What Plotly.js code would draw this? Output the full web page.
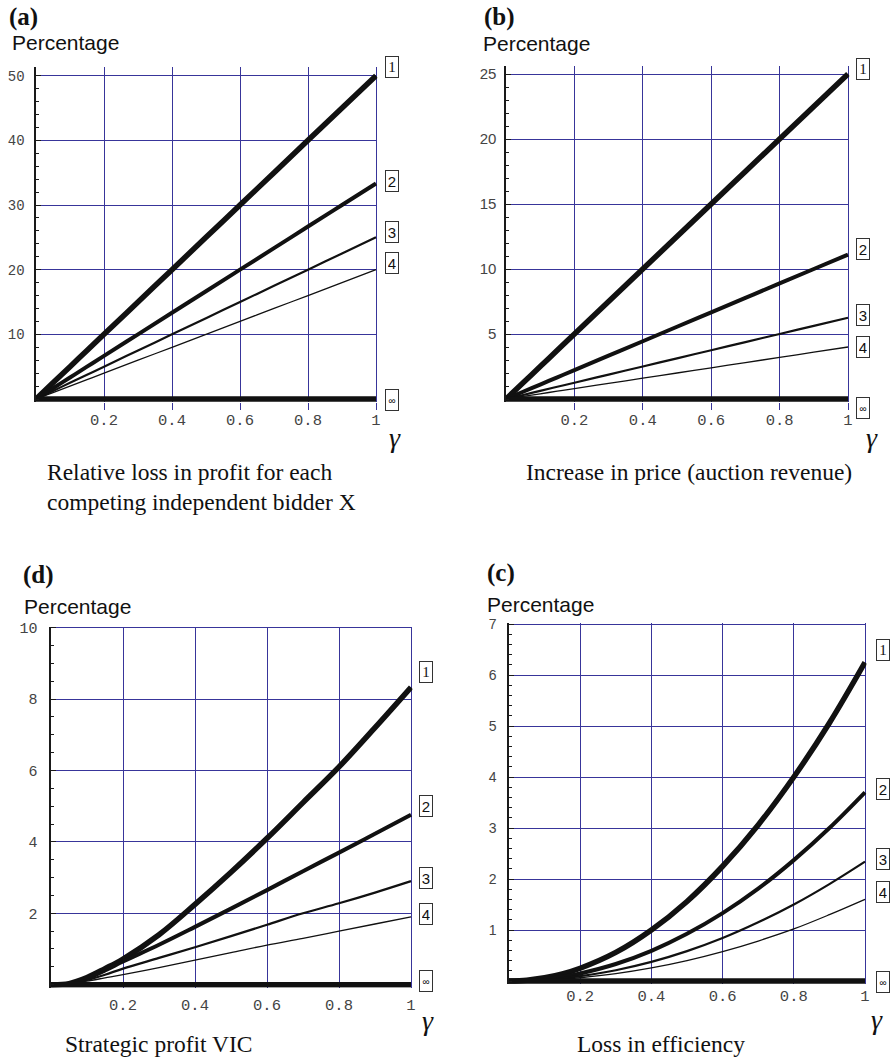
<!DOCTYPE html>
<html>
<head>
<meta charset="utf-8">
<script src="https://cdn.plot.ly/plotly-3.0.1.min.js"></script>
<style>
html,body{margin:0;padding:0;background:#fff;}
#chart{width:893px;height:1059px;}
</style>
</head>
<body>
<div id="chart"></div>
<script>
// ---------- DATA ----------
const gamma = [0, 0.05, 0.1, 0.15, 0.2, 0.3, 0.4, 0.5, 0.6, 0.7, 0.8, 0.9, 1];
const seriesLabels = ['1', '2', '3', '4', '\u221e'];
const xTickVals = [0.2, 0.4, 0.6, 0.8, 1];
const xTickText = ['0.2', '0.4', '0.6', '0.8', '1'];

// (a) Relative loss in profit for each competing independent bidder X
const lossProfit1 = [0, 2.5, 5, 7.5, 10, 15, 20, 25, 30, 35, 40, 45, 50];
const lossProfit2 = [0, 1.67, 3.33, 5, 6.67, 10, 13.33, 16.67, 20, 23.33, 26.67, 30, 33.33];
const lossProfit3 = [0, 1.25, 2.5, 3.75, 5, 7.5, 10, 12.5, 15, 17.5, 20, 22.5, 25];
const lossProfit4 = [0, 1, 2, 3, 4, 6, 8, 10, 12, 14, 16, 18, 20];
const lossProfitInf = [0, 0, 0, 0, 0, 0, 0, 0, 0, 0, 0, 0, 0];
const yTicksA = [10, 20, 30, 40, 50];

// (b) Increase in price (auction revenue)
const price1 = [0, 1.25, 2.5, 3.75, 5, 7.5, 10, 12.5, 15, 17.5, 20, 22.5, 25];
const price2 = [0, 0.56, 1.11, 1.67, 2.22, 3.33, 4.44, 5.56, 6.67, 7.78, 8.89, 10, 11.11];
const price3 = [0, 0.31, 0.63, 0.94, 1.25, 1.88, 2.5, 3.13, 3.75, 4.38, 5, 5.63, 6.25];
const price4 = [0, 0.2, 0.4, 0.6, 0.8, 1.2, 1.6, 2, 2.4, 2.8, 3.2, 3.6, 4];
const priceInf = [0, 0, 0, 0, 0, 0, 0, 0, 0, 0, 0, 0, 0];
const yTicksB = [5, 10, 15, 20, 25];

// (d) Strategic profit VIC
const vic1 = [0, 0.03, 0.2, 0.45, 0.72, 1.4, 2.25, 3.15, 4.1, 5.1, 6.1, 7.2, 8.33];
const vic2 = [0, 0.03, 0.18, 0.4, 0.65, 1.12, 1.62, 2.13, 2.65, 3.18, 3.7, 4.23, 4.76];
const vic3 = [0, 0.02, 0.13, 0.28, 0.45, 0.75, 1.05, 1.36, 1.68, 2.0, 2.28, 2.58, 2.9];
const vic4 = [0, 0.02, 0.1, 0.19, 0.28, 0.48, 0.69, 0.9, 1.11, 1.3, 1.5, 1.7, 1.9];
const vicInf = [0, 0, 0, 0, 0, 0, 0, 0, 0, 0, 0, 0, 0];
const yTicksD = [2, 4, 6, 8, 10];

// (c) Loss in efficiency
const eff1 = [0, 0.016, 0.063, 0.14, 0.25, 0.56, 1.0, 1.56, 2.25, 3.06, 4.0, 5.06, 6.25];
const eff2 = [0, 0.009, 0.037, 0.083, 0.148, 0.333, 0.592, 0.925, 1.33, 1.81, 2.37, 3.0, 3.7];
const eff3 = [0, 0.006, 0.023, 0.053, 0.094, 0.211, 0.374, 0.585, 0.842, 1.15, 1.5, 1.9, 2.34];
const eff4 = [0, 0.004, 0.016, 0.036, 0.064, 0.144, 0.256, 0.4, 0.576, 0.784, 1.02, 1.3, 1.6];
const effInf = [0, 0, 0, 0, 0, 0, 0, 0, 0, 0, 0, 0, 0];
const yTicksC = [1, 2, 3, 4, 5, 6, 7];

// ---------- LAYOUT / STYLE ----------
const W = 893, H = 1059;
const NAVY = '#38359a';
const lineWidths = [5.5, 4, 2.2, 1.3, 5.5];
const MONO = 'Liberation Mono, Courier New, monospace';
const SANS = 'Liberation Sans, Arial, sans-serif';
const SERIF = 'Liberation Serif, Times New Roman, serif';

const panels = [
  {key: '', series: [lossProfit1, lossProfit2, lossProfit3, lossProfit4, lossProfitInf], yTicks: yTicksA,
   px0: 36, px1: 376, py0: 399, scale: 6.466, yHi: 51.3, minor: 2, yFont: MONO, ySize: 14, yStand: 7,
   outTicks: true, xlabGap: 7, xStand: -4,
   lblShift: [9, 2, 5, 7, -1], lblX: 16,
   letter: '(a)', letterPos: [7, 17], pctPos: [10, 42],
   caption: ['Relative loss in profit for each', 'competing independent bidder X'], capPos: [45, 472, 30], gPos: [387, 437]},
  {key: '2', series: [price1, price2, price3, price4, priceInf], yTicks: yTicksB,
   px0: 506, px1: 848, py0: 399, scale: 13.0, yHi: 25.6, minor: 1, yFont: SANS, ySize: 15, yStand: 5,
   outTicks: true, xlabGap: 7, xStand: -4,
   lblShift: [5, 6, 3, 0, -9], lblX: 15,
   letter: '(b)', letterPos: [482, 17], pctPos: [481, 44],
   caption: ['Increase in price (auction revenue)'], capPos: [524, 472, 30], gPos: [864, 437]},
  {key: '3', series: [vic1, vic2, vic3, vic4, vicInf], yTicks: yTicksD,
   px0: 51, px1: 411, py0: 984.7, scale: 35.7, yHi: 10.03, minor: 0.5, yFont: MONO, ySize: 15, yStand: 9,
   outTicks: false, xlabGap: 3, xStand: 0,
   lblShift: [15, 9, 3, 3, 4], lblX: 15,
   letter: '(d)', letterPos: [21, 575], pctPos: [22, 606],
   caption: ['Strategic profit VIC'], capPos: [63, 1044, 30], gPos: [420, 1020]},
  {key: '4', series: [eff1, eff2, eff3, eff4, effInf], yTicks: yTicksC,
   px0: 509, px1: 865, py0: 981, scale: 51, yHi: 7.02, minor: 0.2, yFont: SANS, ySize: 14, yStand: 8,
   outTicks: false, xlabGap: 0, xStand: 0,
   lblShift: [12, 3, 3, 7, -1], lblX: 18,
   letter: '(c)', letterPos: [485, 573], pctPos: [485, 604],
   caption: ['Loss in efficiency'], capPos: [575, 1044, 30], gPos: [869, 1019]}
];

const traces = [];
const annotations = [];
const layout = {
  width: W, height: H,
  margin: {l: 0, r: 0, t: 0, b: 0},
  paper_bgcolor: '#ffffff', plot_bgcolor: '#ffffff',
  showlegend: false,
  annotations: annotations
};

const xHi = 1.004;
panels.forEach((p, pi) => {
  const yLo = -3 / p.scale;
  const xd0 = p.px0 / W;
  const xd1 = (p.px0 + (p.px1 - p.px0) * xHi) / W;
  const bottomPx = p.py0 - yLo * p.scale;
  const topPx = p.py0 - p.yHi * p.scale;
  const xa = 'xaxis' + p.key, ya = 'yaxis' + p.key;
  const xr = 'x' + p.key, yr = 'y' + p.key;

  layout[xa] = {
    domain: [xd0, xd1], range: [0, xHi], anchor: yr,
    showgrid: true, gridcolor: NAVY, gridwidth: 1,
    zeroline: false, showline: false,
    tickmode: 'array', tickvals: xTickVals, ticktext: xTickText,
    ticks: p.xlabGap > 0 ? 'outside' : '', ticklen: p.xlabGap, tickwidth: 1,
    tickcolor: p.outTicks ? NAVY : 'rgba(0,0,0,0)',
    ticklabelstandoff: p.xStand,
    tickfont: {family: MONO, size: 15.5, color: '#444'},
    fixedrange: true
  };
  layout[ya] = {
    domain: [1 - bottomPx / H, 1 - topPx / H], range: [yLo, p.yHi], anchor: xr,
    showgrid: true, gridcolor: NAVY, gridwidth: 1,
    zeroline: false, showline: true, linecolor: '#1a1a1a', linewidth: 1.6,
    tickmode: 'array', tickvals: p.yTicks,
    ticks: 'inside', ticklen: 5, tickwidth: 1, tickcolor: '#1a1a1a',
    ticklabelstandoff: p.yStand,
    tickfont: {family: p.yFont, size: p.ySize, color: '#444'},
    minor: {tickmode: 'linear', tick0: 0, dtick: p.minor, ticks: 'inside', ticklen: 3, tickwidth: 1, tickcolor: '#1a1a1a', showgrid: false},
    fixedrange: true
  };

  p.series.forEach((s, si) => {
    traces.push({
      type: 'scatter', mode: 'lines', x: gamma, y: s,
      xaxis: xr, yaxis: yr,
      line: {color: '#111', width: lineWidths[si], shape: 'spline', smoothing: 1},
      hoverinfo: 'skip'
    });
    annotations.push({
      xref: xr, yref: yr, x: gamma[gamma.length - 1], y: s[s.length - 1],
      xshift: p.lblX, yshift: p.lblShift[si],
      text: seriesLabels[si], showarrow: false,
      font: {family: si === 0 ? SERIF : SANS, size: si === 4 ? 10 : 15, color: '#111'},
      bordercolor: '#333', borderwidth: 1, borderpad: 2, bgcolor: '#fff',
      width: 8, height: 16, align: 'center'
    });
  });

  const px = (x) => x / W, py = (y) => 1 - y / H;
  annotations.push({xref: 'paper', yref: 'paper', x: px(p.letterPos[0]), y: py(p.letterPos[1]),
    xanchor: 'left', yanchor: 'middle', showarrow: false, text: '<b>' + p.letter + '</b>',
    font: {family: SERIF, size: 25, color: '#111'}});
  annotations.push({xref: 'paper', yref: 'paper', x: px(p.pctPos[0]), y: py(p.pctPos[1]),
    xanchor: 'left', yanchor: 'middle', showarrow: false, text: 'Percentage',
    font: {family: SANS, size: 21, color: '#111'}});
  p.caption.forEach((c, ci) => {
    annotations.push({xref: 'paper', yref: 'paper', x: px(p.capPos[0]), y: py(p.capPos[1] + ci * p.capPos[2]),
      xanchor: 'left', yanchor: 'middle', showarrow: false, text: c,
      font: {family: SERIF, size: 23.5, color: '#111'}});
  });
  annotations.push({xref: 'paper', yref: 'paper', x: px(p.gPos[0]), y: py(p.gPos[1]),
    xanchor: 'left', yanchor: 'middle', showarrow: false, text: '<i>\u03b3</i>',
    font: {family: SERIF, size: 28, color: '#111'}});
});

Plotly.newPlot('chart', traces, layout, {staticPlot: true, displayModeBar: false});
</script>
</body>
</html>
